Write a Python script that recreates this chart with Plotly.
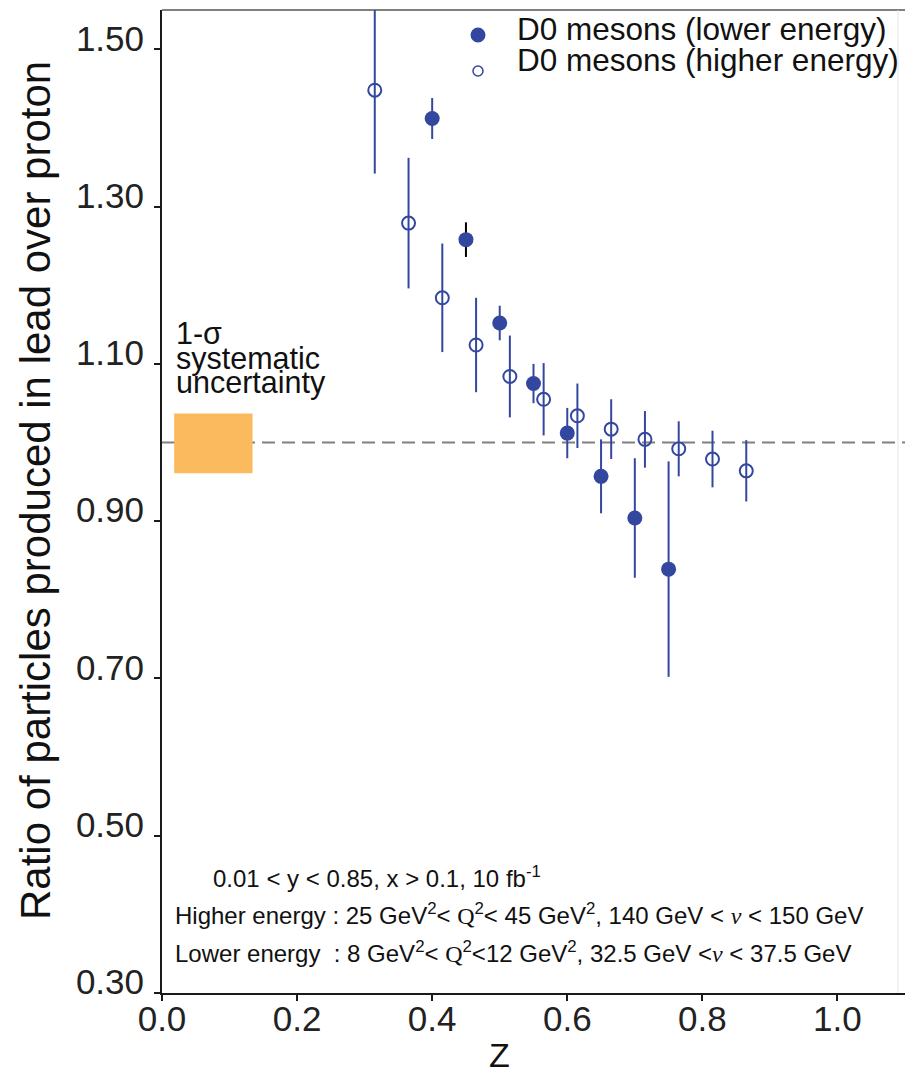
import plotly.graph_objects as go

# ---- data -----------------------------------------------------------------
# D0 mesons, lower beam energy (filled markers)
z_lower = [0.40, 0.45, 0.50, 0.55, 0.60, 0.65, 0.70, 0.75]
ratio_lower = [1.412, 1.258, 1.152, 1.075, 1.012, 0.957, 0.904, 0.839]
err_lower = [0.026, 0.022, 0.022, 0.025, 0.032, 0.047, 0.076, 0.137]
err_colour_lower = ["blue", "black", "blue", "blue", "blue", "blue", "blue", "blue"]

# D0 mesons, higher beam energy (open markers)
z_higher = [0.315, 0.365, 0.415, 0.465, 0.515, 0.565, 0.615, 0.665,
            0.715, 0.765, 0.815, 0.865]
ratio_higher = [1.448, 1.279, 1.184, 1.124, 1.084, 1.055, 1.034, 1.017,
                1.004, 0.992, 0.979, 0.964]
err_higher = [0.106, 0.083, 0.069, 0.060, 0.052, 0.046, 0.041, 0.038,
              0.036, 0.035, 0.036, 0.039]

# unity reference and 1-sigma systematic band
reference_ratio = 1.0
syst_low, syst_high = 0.961, 1.037
syst_z0, syst_z1 = 0.018, 0.134

x_ticks = [0.0, 0.2, 0.4, 0.6, 0.8, 1.0]
x_tick_labels = ["0.0", "0.2", "0.4", "0.6", "0.8", "1.0"]
y_ticks = [0.3, 0.5, 0.7, 0.9, 1.1, 1.3, 1.5]
y_tick_labels = ["0.30", "0.50", "0.70", "0.90", "1.10", "1.30", "1.50"]

# ---- style ----------------------------------------------------------------
W, H = 905, 1075
L, R, T, B = 162, 0, 10, 82
FONT = "Liberation Sans, Arial, Helvetica, sans-serif"
SERIF = "Liberation Serif, Times New Roman, serif"
BLUE = "#34479f"
ORANGE = "#fbba5e"
INK = "#111111"
colour_map = {"blue": BLUE, "black": "#000000"}

PW, PH = W - L - R, H - T - B


def pos(px, py):
    """Convert a page pixel position into paper coordinates."""
    return (px - L) / PW, (H - B - py) / PH


fig = go.Figure()

# unity line (drawn first so the band sits on top of it)
fig.add_shape(type="line", xref="x", yref="y", x0=0, x1=1.1,
              y0=reference_ratio, y1=reference_ratio,
              line=dict(color="#808080", width=2, dash="13px,7px"), layer="below")
fig.add_shape(type="rect", xref="x", yref="y", x0=syst_z0, x1=syst_z1,
              y0=syst_low, y1=syst_high, fillcolor=ORANGE,
              line=dict(width=0), layer="below")

# higher energy: open circles
fig.add_trace(go.Scatter(
    x=z_higher, y=ratio_higher, mode="markers", showlegend=False,
    marker=dict(symbol="circle-open", size=13, color=BLUE, line=dict(width=2, color=BLUE)),
    error_y=dict(type="data", array=err_higher, visible=True,
                 color=BLUE, thickness=2, width=0),
))

# lower energy: filled circles, error bars grouped by colour
for key in ["blue", "black"]:
    idx = [i for i, c in enumerate(err_colour_lower) if c == key]
    fig.add_trace(go.Scatter(
        x=[z_lower[i] for i in idx], y=[ratio_lower[i] for i in idx],
        mode="markers", showlegend=False,
        marker=dict(symbol="circle", size=15, color=BLUE, line=dict(width=0)),
        error_y=dict(type="data", array=[err_lower[i] for i in idx], visible=True,
                     color=colour_map[key], thickness=2, width=0),
    ))

# frame on top and (faint) right side
fig.add_shape(type="line", xref="paper", yref="paper", x0=0, x1=1, y0=1, y1=1,
              line=dict(color="#555555", width=1.5))
rx, _ = pos(898, 0)
fig.add_shape(type="line", xref="paper", yref="paper", x0=rx, x1=rx, y0=0, y1=1,
              line=dict(color="#e4e4e4", width=1))

# legend
for (cx, cy, d, filled) in [(478, 35, 15, True), (478, 71, 10, False)]:
    x0, y0 = pos(cx - d / 2, cy + d / 2)
    x1, y1 = pos(cx + d / 2, cy - d / 2)
    fig.add_shape(type="circle", xref="paper", yref="paper",
                  x0=x0, x1=x1, y0=y0, y1=y1,
                  fillcolor=BLUE if filled else "rgba(0,0,0,0)",
                  line=dict(color=BLUE, width=0 if filled else 1.5))

annotations = []


def text(px, py, s, size, anchor="left", font=FONT, angle=0):
    x, y = pos(px, py)
    annotations.append(dict(
        x=x, y=y, xref="paper", yref="paper", text=s, showarrow=False,
        xanchor=anchor, yanchor="middle", textangle=angle,
        font=dict(family=font, size=size, color=INK),
    ))


text(515, 29, "D0 mesons (lower energy)", 31.5)
text(515, 60, "D0 mesons (higher energy)", 31.5)

text(174, 333, "1-σ", 30.5)
text(174, 358, "systematic", 30.5)
text(174, 382, "uncertainty", 30.5)

text(211, 877, "0.01 &lt; y &lt; 0.85, x &gt; 0.1, 10 fb<sup>-1</sup>", 24)
nu = f"<span style='font-family:{SERIF}'><i>ν</i></span>"
q = f"<span style='font-family:{SERIF}'>Q</span>"
text(173, 914,
     f"Higher energy : 25 GeV<sup>2</sup>&lt; {q}<sup>2</sup>&lt; 45 GeV<sup>2</sup>, "
     f"140 GeV &lt; {nu} &lt; 150 GeV", 24)
text(173, 952,
     f"Lower energy  : 8 GeV<sup>2</sup>&lt; {q}<sup>2</sup>&lt;12 GeV<sup>2</sup>, "
     f"32.5 GeV &lt;{nu} &lt; 37.5 GeV", 24)

# axis titles
text(36, 491, "Ratio of particles produced in lead over proton", 42,
     anchor="center", angle=-90)
text(499, 1055, "Z", 34, anchor="center")

fig.update_layout(
    width=W, height=H,
    margin=dict(l=L, r=R, t=T, b=B, pad=0),
    paper_bgcolor="white", plot_bgcolor="white",
    annotations=annotations,
    showlegend=False,
    font=dict(family=FONT, color=INK),
)
fig.update_xaxes(
    range=[0, 1.1], tickvals=x_ticks, ticktext=x_tick_labels,
    showgrid=False, zeroline=False, showline=True, linecolor="#1a1a1a", linewidth=2,
    ticks="outside", ticklen=6, tickwidth=2, tickcolor="#1a1a1a",
    tickfont=dict(family=FONT, size=35, color="#222222"),
    ticklabelstandoff=-12,
)
fig.update_yaxes(
    range=[0.3, 1.55], tickvals=y_ticks, ticktext=y_tick_labels,
    showgrid=False, zeroline=False, showline=True, linecolor="#1a1a1a", linewidth=2,
    ticks="outside", ticklen=6, tickwidth=2, tickcolor="#1a1a1a",
    tickfont=dict(family=FONT, size=35, color="#222222"),
    ticklabelshift=-11, ticklabelstandoff=3,
)

fig.write_html("out.html")
